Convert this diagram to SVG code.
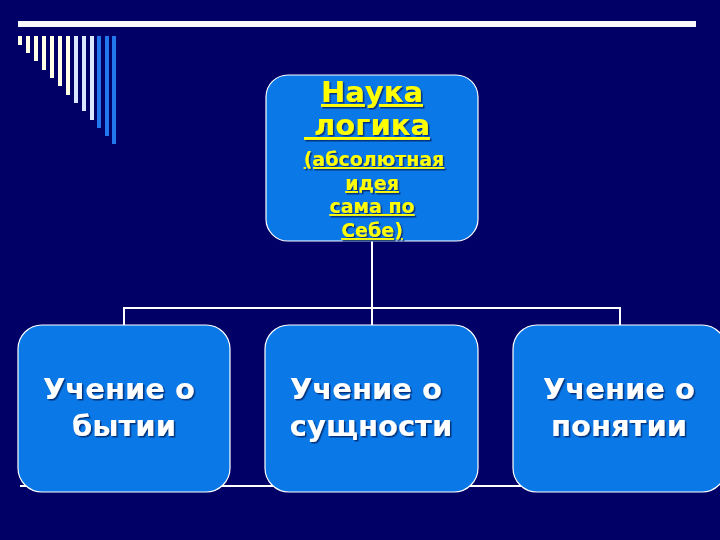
<svg xmlns="http://www.w3.org/2000/svg" width="720" height="540" viewBox="0 0 720 540">
<style>
.box{fill:#0A78E6;stroke:#FFFFFF;stroke-width:1.2}
.conn{stroke:#FFFFFF;stroke-width:2;fill:none}
.t{font-family:"DejaVu Sans",Verdana,sans-serif;font-weight:bold;text-anchor:middle}
.y{fill:#FFFF00;text-decoration:underline;filter:url(#sh)}
.w{fill:#FFFFFF;font-size:29px;filter:url(#sh)}
.by{fill:#FFFFE6}
.bl{fill:#DCE6FF}
.bb{fill:#2277EE}
</style>
<defs>
<filter id="sh" x="-10%" y="-20%" width="120%" height="150%">
<feDropShadow dx="1.5" dy="1.5" stdDeviation="0.6" flood-color="#002060" flood-opacity="0.8"/>
</filter>
</defs>
<rect width="720" height="540" fill="#000066"/>
<g id="decor">
<rect x="18" y="21" width="678" height="6" fill="#F8F8FF"/>
<rect class="by" x="18" y="36" width="4" height="9"/>
<rect class="by" x="26" y="36" width="4" height="17"/>
<rect class="by" x="34" y="36" width="4" height="25"/>
<rect class="by" x="42" y="36" width="4" height="34"/>
<rect class="by" x="50" y="36" width="4" height="42"/>
<rect class="by" x="58" y="36" width="4" height="50"/>
<rect class="by" x="66" y="36" width="4" height="59"/>
<rect class="bl" x="74" y="36" width="4" height="67"/>
<rect class="bl" x="82" y="36" width="4" height="75"/>
<rect class="bl" x="90" y="36" width="4" height="84"/>
<rect class="bb" x="97" y="36" width="4" height="92"/>
<rect class="bb" x="105" y="36" width="4" height="100"/>
<rect class="bb" x="112" y="36" width="4" height="108"/>
</g>
<g id="connectors">
<line class="conn" x1="20" y1="486" x2="620" y2="486" stroke-width="1.5"/>
<line class="conn" x1="372" y1="241" x2="372" y2="325"/>
<polyline class="conn" points="124,325 124,308 620,308 620,325"/>
</g>
<g id="node-top">
<rect class="box" x="266" y="75" width="212" height="166" rx="22"/>
<text class="t y" x="372" y="102" font-size="29">Наука</text>
<text class="t y" x="367" y="135" font-size="29" xml:space="preserve"> логика</text>
<text class="t y" x="374" y="166" font-size="19">(абсолютная</text>
<text class="t y" x="372" y="190" font-size="19">идея</text>
<text class="t y" x="372" y="213" font-size="19">сама по</text>
<text class="t y" x="372" y="237" font-size="19">Себе)</text>
</g>
<g id="node-being">
<rect class="box" x="18" y="325" width="212" height="167" rx="24"/>
<text class="t w" x="119" y="399">Учение о</text>
<text class="t w" x="124" y="436">бытии</text>
</g>
<g id="node-essence">
<rect class="box" x="265" y="325" width="213" height="167" rx="24"/>
<text class="t w" x="366" y="399">Учение о</text>
<text class="t w" x="371" y="436">сущности</text>
</g>
<g id="node-concept">
<rect class="box" x="513" y="325" width="213" height="167" rx="24"/>
<text class="t w" x="619" y="399">Учение о</text>
<text class="t w" x="619" y="436">понятии</text>
</g>
</svg>
